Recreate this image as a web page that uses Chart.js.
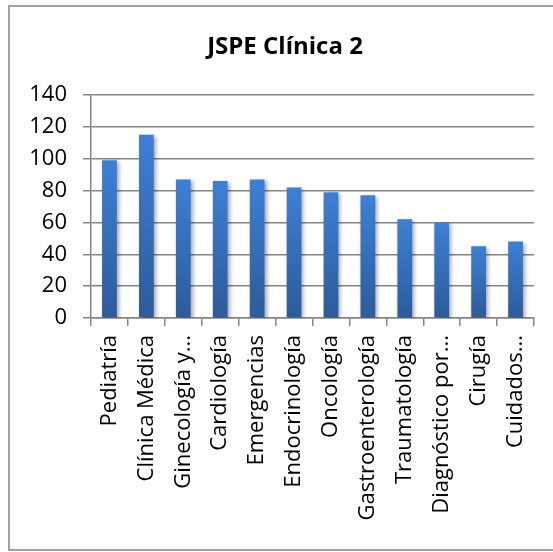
<!DOCTYPE html>
<html>
<head>
<meta charset="utf-8">
<script src="https://cdn.jsdelivr.net/npm/chart.js@4/dist/chart.umd.min.js"></script>
<style>
  html, body { margin: 0; padding: 0; background: #fff; overflow: hidden; }
  #frame { position: absolute; left: 8px; top: 5px; width: 600px; height: 542px;
           border: 2px solid #a0a0a0; border-right: none; }
  #wrap { position: absolute; left: 0; top: 0; width: 553px; height: 552px; }
</style>
</head>
<body>
<div id="frame"></div>
<div id="wrap"><canvas id="c"></canvas></div>
<script>
// Specialties (x categories) and their JSPE scores
const categories = [
  "Pediatría", "Clínica Médica", "Ginecología y...", "Cardiología", "Emergencias",
  "Endocrinología", "Oncología", "Gastroenterología", "Traumatología",
  "Diagnóstico por...", "Cirugía", "Cuidados..."
];
const scores = [99, 115, 87, 86, 87, 82, 79, 77, 62, 60, 45, 48];
const yTicks = [0, 20, 40, 60, 80, 100, 120, 140];
const chartTitle = 'JSPE Clínica 2';

const FONT = '"Open Sans", Lato, sans-serif';
const GRID = '#858585';

// Soft drop shadow under the bars
const barShadow = {
  id: 'barShadow',
  beforeDatasetDraw(chart) {
    const c = chart.ctx;
    c.save();
    c.shadowColor = 'rgba(0,0,0,0.35)';
    c.shadowBlur = 4;
    c.shadowOffsetX = 2;
    c.shadowOffsetY = 2;
  },
  afterDatasetDraw(chart) { chart.ctx.restore(); }
};

// Title centred over the whole framed chart (the frame is wider than the plot)
const frameTitle = {
  id: 'frameTitle',
  afterDraw(chart) {
    const c = chart.ctx;
    c.save();
    c.font = 'bold 24px ' + FONT;
    c.fillStyle = '#000';
    c.textAlign = 'center';
    c.textBaseline = 'middle';
    c.fillText(chartTitle, 285, 47);
    c.restore();
  }
};

// Vertical gradient per bar: lighter at the top, darker at the base
function barFill(ctx) {
  const chart = ctx.chart;
  if (!chart.chartArea || ctx.type !== 'data') return '#3672c0';
  const y = chart.scales.y;
  const top = y.getPixelForValue(ctx.raw);
  const bottom = y.getPixelForValue(yTicks[0]);
  const g = chart.ctx.createLinearGradient(0, top, 0, bottom);
  g.addColorStop(0, '#3c80d6');
  g.addColorStop(1, '#2c5b9a');
  return g;
}

new Chart(document.getElementById('c'), {
  type: 'bar',
  data: {
    labels: categories,
    datasets: [{
      data: scores,
      backgroundColor: barFill,
      borderWidth: 0,
      categoryPercentage: 1,
      barPercentage: 0.4
    }]
  },
  plugins: [barShadow, frameTitle],
  options: {
    responsive: true,
    maintainAspectRatio: false,
    animation: false,
    layout: { padding: { left: 0, right: 19, top: 95, bottom: 0 } },
    plugins: {
      legend: { display: false },
      tooltip: { enabled: false },
      title: { display: false }
    },
    scales: {
      x: {
        grid: { display: true, drawOnChartArea: false, drawTicks: true, tickLength: 8,
                color: GRID, lineWidth: 1.5, offset: true },
        border: { color: GRID, width: 1.5 },
        ticks: { minRotation: 90, maxRotation: 90, autoSkip: false, padding: 9,
                 color: '#000', font: { family: FONT, size: 22 } },
        afterFit(s) { s.height = 552 - 318; }
      },
      y: {
        min: yTicks[0],
        max: yTicks[yTicks.length - 1],
        ticks: { stepSize: yTicks[1] - yTicks[0], padding: 16, color: '#000',
                 font: { family: FONT, size: 22 } },
        grid: { color: GRID, lineWidth: 1.5, tickLength: 8 },
        border: { color: GRID, width: 1.5 },
        afterFit(s) { s.width = 91; }
      }
    }
  }
});
</script>
</body>
</html>
